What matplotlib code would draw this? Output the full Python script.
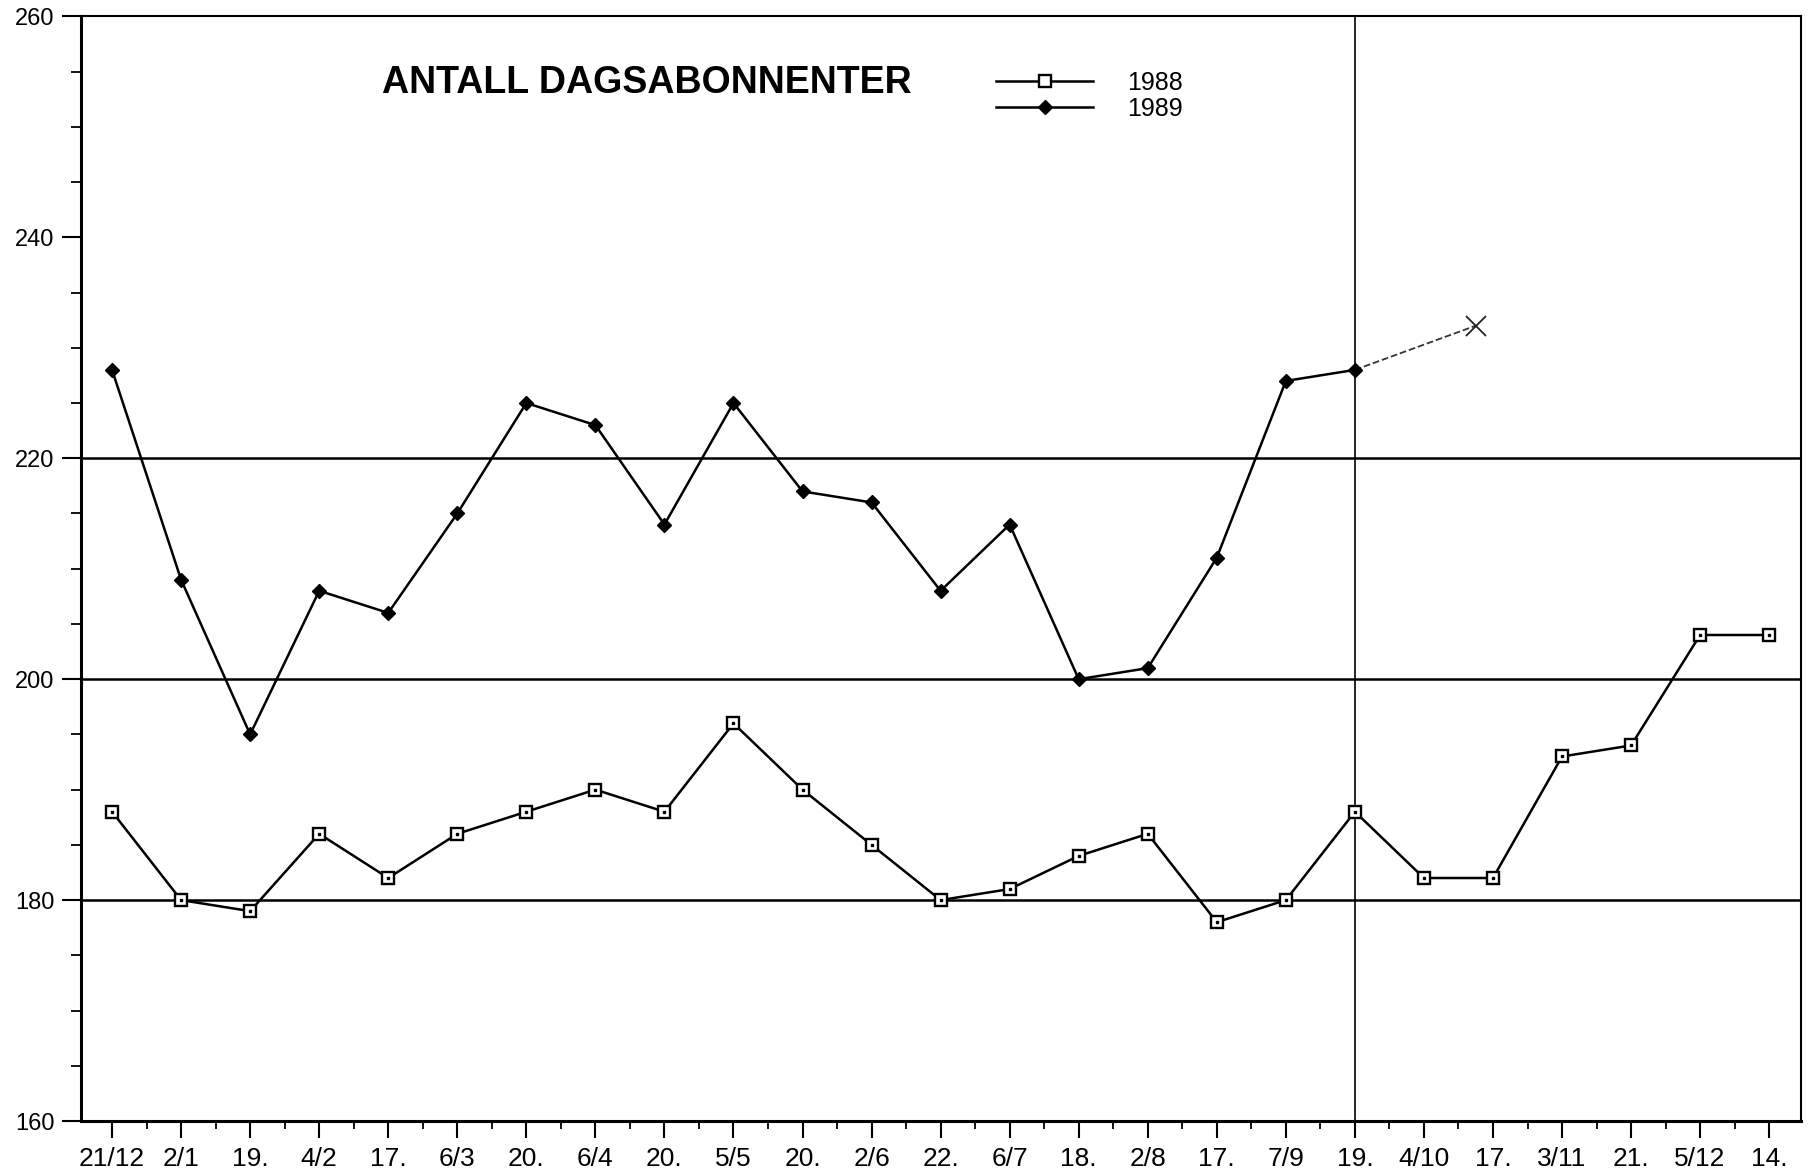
#!/usr/bin/env python3
"""Antall dagsabonnenter 1988 vs 1989 (line chart recreated from a scanned plot)."""

import matplotlib
matplotlib.use("Agg")
import matplotlib.pyplot as plt
from matplotlib.ticker import MultipleLocator


# x-axis labels (dates), one per observation
dates = ["21/12", "2/1", "19.", "4/2", "17.", "6/3", "20.", "6/4", "20.", "5/5",
         "20.", "2/6", "22.", "6/7", "18.", "2/8", "17.", "7/9", "19.", "4/10",
         "17.", "3/11", "21.", "5/12", "14."]

subs_1988 = [188, 180, 179, 186, 182, 186, 188, 190, 188, 196,
             190, 185, 180, 181, 184, 186, 178, 180, 188, 182,
             182, 193, 194, 204, 204]

subs_1989 = [228, 209, 195, 208, 206, 215, 225, 223, 214, 225,
             217, 216, 208, 214, 200, 201, 211, 227, 228]

# pencil extension drawn by hand after the last 1989 point
pencil_x = [18, 19.75]
pencil_y = [228, 232]

gridlines_y = [180, 200, 220]
divider_x = 18

FONT = ["Liberation Sans Narrow", "Liberation Sans", "DejaVu Sans"]
TICK_FONT = ["Liberation Sans", "DejaVu Sans"]
plt.rcParams["font.family"] = FONT


def main():
    fig = plt.figure(figsize=(18.16, 11.72), dpi=100)
    ax = fig.add_axes([0.0446, 0.0435, 0.9471, 0.9425])

    x88 = list(range(len(subs_1988)))
    x89 = list(range(len(subs_1989)))

    for y in gridlines_y:
        ax.axhline(y, color="black", lw=1.8, zorder=1)
    ax.axvline(divider_x, color="black", lw=1.2, zorder=1)

    ax.plot(x88, subs_1988, color="black", lw=1.8, marker="s", ms=8,
            mfc="white", mec="black", mew=1.7, zorder=3, label="1988")
    ax.plot(x88, subs_1988, ls="none", marker="s", ms=2, color="black", zorder=4)
    ax.plot(x89, subs_1989, color="black", lw=1.8, marker="D", ms=7.5,
            mfc="black", mec="black", zorder=3, label="1989")

    # hand-drawn pencil note
    ax.plot(pencil_x, pencil_y, color="#333333", lw=1.3, ls="--", zorder=2)
    ax.plot(pencil_x[-1:], pencil_y[-1:], color="#222222", marker="x", ms=14,
            mew=1.3, ls="none", zorder=3)

    ax.set_xlim(-0.45, 24.46)
    ax.set_ylim(160, 260)

    ax.set_xticks(x88)
    ax.set_xticklabels(dates, fontsize=19, family=TICK_FONT)
    ax.xaxis.set_minor_locator(MultipleLocator(0.5))
    ax.yaxis.set_major_locator(MultipleLocator(20))
    ax.yaxis.set_minor_locator(MultipleLocator(5))
    ax.tick_params(axis="y", which="major", direction="out", length=14, width=1.5,
                   labelsize=17, pad=5)
    ax.tick_params(axis="y", which="minor", direction="out", length=7, width=1.3)
    ax.tick_params(axis="x", which="major", direction="out", length=12, width=1.5,
                   pad=7)
    ax.tick_params(axis="x", which="minor", direction="out", length=6, width=1.3)
    for lab in ax.get_yticklabels():
        lab.set_family(TICK_FONT)

    for side in ["left", "bottom"]:
        ax.spines[side].set_linewidth(2.2)
    for side in ["top", "right"]:
        ax.spines[side].set_linewidth(1.5)

    fig.text(0.2104, 0.929, "ANTALL DAGSABONNENTER", fontsize=27, fontweight="bold",
             ha="left", va="center")

    ax.legend(loc="upper left", bbox_to_anchor=(0.532, 0.951), frameon=False,
              prop={"family": TICK_FONT, "size": 18}, handlelength=3.9,
              handletextpad=1.35, labelspacing=0.08, borderpad=0, borderaxespad=0)

    fig.savefig("out.png", dpi=100, facecolor="white")


if __name__ == "__main__":
    main()
